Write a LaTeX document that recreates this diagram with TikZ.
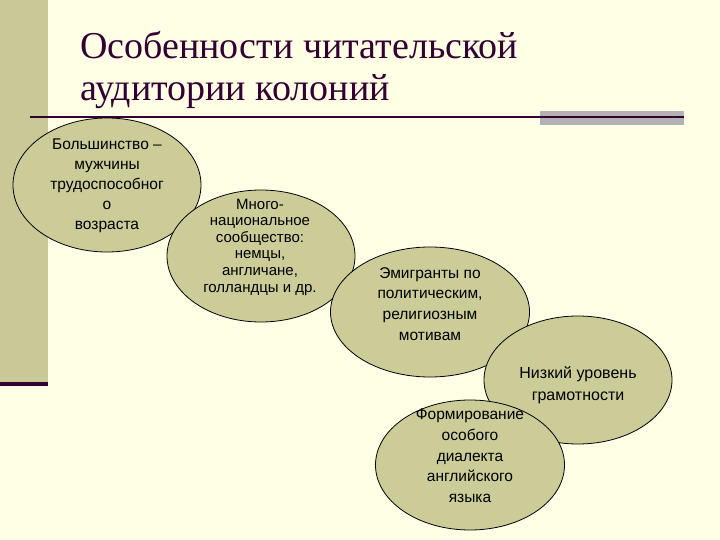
\documentclass[tikz,border=0pt]{standalone}
\usepackage{fontspec}
\setmainfont{Liberation Serif}
\newfontfamily\arialf{Liberation Sans}
\usetikzlibrary{shapes.geometric}
\definecolor{bgc}{HTML}{FFFFE5}
\definecolor{barc}{HTML}{C9C997}
\definecolor{linec}{HTML}{330033}
\definecolor{grayc}{HTML}{B2B2B2}
\definecolor{ellc}{HTML}{CCCC99}
\tikzset{
  oval/.style={ellipse, draw=black, line width=0.8pt, fill=ellc, inner sep=0pt},
  ovtext/.style={align=center, font=\arialf\fontsize{15.5}{#1}\selectfont, text=black, inner sep=0pt},
}
\begin{document}
\begin{tikzpicture}[x=1pt,y=-1pt]
\fill[bgc] (0,0) rectangle (720,540);
\useasboundingbox (0,0) rectangle (720,540);
\fill[barc] (0,0) rectangle (48,382);
\fill[linec] (0,382) rectangle (48,386);
\fill[grayc] (540,111) rectangle (684,125);
\draw[linec, line width=2pt] (30,117) -- (684,117);
\node[anchor=base west, inner sep=0pt, align=left, font=\fontsize{38}{42}\selectfont, text=linec] (title) at (80,101) {Особенности читательской\\аудитории колоний};
\node[oval, minimum width=188, minimum height=134] (e1) at (107,185) {};
\node[oval, minimum width=188, minimum height=132] (e2) at (261,256) {};
\node[oval, minimum width=199, minimum height=130] (e3) at (430,312) {};
\node[oval, minimum width=188, minimum height=128] (e4) at (578,380) {};
\node[oval, minimum width=189, minimum height=130] (e5) at (470,465) {};
\node[ovtext=20] (t1) at (107,186) {Большинство –\\мужчины\\трудоспособног\\о\\возраста};
\node[ovtext=16.6, font=\arialf\fontsize{15}{16.6}\selectfont] (t2) at (260,247) {Много-\\национальное\\сообщество:\\немцы,\\англичане,\\голландцы и др.};
\node[ovtext=20.7] (t3) at (430,304) {Эмигранты по\\политическим,\\религиозным\\мотивам};
\node[ovtext=22, font=\arialf\fontsize{16}{22}\selectfont] (t4) at (578,385) {Низкий уровень\\грамотности};
\node[ovtext=20.7] (t5) at (470,456) {Формирование\\особого\\диалекта\\английского\\языка};
\end{tikzpicture}
\end{document}
